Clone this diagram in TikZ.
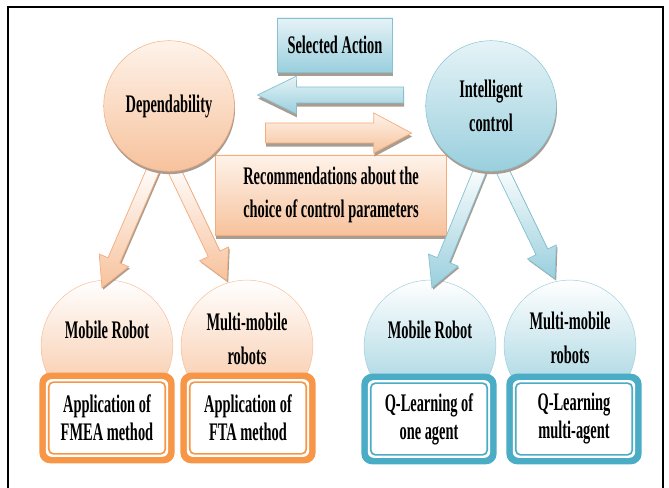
\documentclass[tikz,border=0pt]{standalone}
\usepackage{fontspec}
\setmainfont{Liberation Serif}[FakeStretch=0.57]
\usetikzlibrary{calc, shadows}

\definecolor{fmeaorange}{HTML}{F79646}
\definecolor{qlblue}{HTML}{4BACC6}
\definecolor{peachtop}{HTML}{FEF3EA}
\definecolor{peachbot}{HTML}{F7C29C}
\definecolor{peachline}{HTML}{F5AC7C}
\definecolor{aquatop}{HTML}{E6F3F7}
\definecolor{aquabot}{HTML}{99CFDD}
\definecolor{aqualine}{HTML}{84C1D3}
\definecolor{hatch}{HTML}{A99D92}

\pgfdeclarelayer{front}
\pgfsetlayers{main,front}

% block arrow: [style]{from}{to}{shaft half width}{head half width}{head length}
\newcommand{\blockarrow}[6][]{%
    \coordinate (neck) at ($(#3)!#6!(#2)$);
    \path[#1] ($(#2)!#4!90:(#3)$) -- ($(neck)!#4!90:(#3)$) -- ($(neck)!#5!90:(#3)$) -- (#3)
        -- ($(neck)!#5!-90:(#3)$) -- ($(neck)!#4!-90:(#3)$) -- ($(#2)!#4!-90:(#3)$) -- cycle;}

\begin{document}
\begin{tikzpicture}[x=0.85pt, y=-0.85pt, font=\fontsize{21.5pt}{29pt}\selectfont\bfseries,
    orb/.style={circle, inner sep=0pt, minimum size=111pt, align=center, draw=#1line,
        top color=#1top, bottom color=#1bot,
        drop shadow={shadow xshift=0.6pt, shadow yshift=-2.4pt, fill=hatch, opacity=1}},
    suborb/.style={circle, inner sep=0pt, minimum size=112pt, draw=#1line!80,
        top color=white, bottom color=#1bot},
    tag/.style={rectangle, inner sep=0pt, align=center, draw=#1line, top color=#1top, bottom color=#1bot,
        drop shadow={shadow xshift=0.5pt, shadow yshift=-3.4pt, fill=hatch, opacity=1}},
    appbox/.style={rectangle, rounded corners=9pt, fill=#1, minimum width=115pt, minimum height=77pt,
        align=center, font=\fontsize{21.5pt}{23.8pt}\selectfont\bfseries,
        path picture={
            \fill[white, rounded corners=5pt] ([shift={(5.5pt,5.5pt)}]path picture bounding box.south west)
                rectangle ([shift={(-5.5pt,-5.5pt)}]path picture bounding box.north east);
            \draw[#1, line width=1.4pt, rounded corners=4pt] ([shift={(8pt,8pt)}]path picture bounding box.south west)
                rectangle ([shift={(-8pt,-8pt)}]path picture bounding box.north east);}},
    flow/.style={draw=#1line, line width=0.6pt, top color=#1top, bottom color=#1bot,
        drop shadow={shadow xshift=0.5pt, shadow yshift=-3pt, fill=hatch, opacity=1}},
    branch/.style={draw=#1line, line width=0.6pt, top color=white, bottom color=#1bot,
        drop shadow={shadow xshift=1pt, shadow yshift=-1.5pt, fill=hatch, opacity=1}}]
    \useasboundingbox (0,0) rectangle (669,488);
    \draw[line width=1.4pt] (8,500) -- (8,7) -- (663,7) -- (663,500);

    \begin{pgfonlayer}{front}
        \node[orb=peach] (dep) at (169,106) {Dependability};
        \node[orb=aqua] (ic) at (491,106) {Intelligent\\control};
    \end{pgfonlayer}

    \node[tag=aqua, minimum width=98pt, minimum height=46pt] (act) at (335,45) {Selected Action};
    \node[tag=peach, minimum width=196pt, minimum height=68pt,
        font=\fontsize{21.5pt}{28pt}\selectfont\bfseries] (rec) at (331,195)
        {Recommendations about the\\choice of control parameters};

    \node[suborb=peach] (mobL) at (107,346) {};
    \node[suborb=peach] (multiL) at (247,346) {};
    \node[suborb=aqua] (mobR) at (430,346) {};
    \node[suborb=aqua] (multiR) at (570,346) {};
    \node (mobLt) at ($(mobL)+(0,-16)$) {Mobile Robot};
    \node[align=center] (multiLt) at ($(multiL)+(0,-7)$) {Multi-mobile\\robots};
    \node (mobRt) at ($(mobR)+(0,-16)$) {Mobile Robot};
    \node[align=center] (multiRt) at ($(multiR)+(0,-8)$) {Multi-mobile\\robots};

    \node[appbox=fmeaorange] (fmea) at (107,418) {Application of\\FMEA method};
    \node[appbox=fmeaorange] (fta) at (248,418) {Application of\\FTA method};
    \node[appbox=qlblue] (qone) at (429,419) {Q-Learning of\\one agent};
    \node[appbox=qlblue] (qmulti) at (574,419) {Q-Learning\\multi-agent};

    \coordinate (actS) at ($(ic.west)+(-22,-11)$);
    \coordinate (actE) at ($(dep.east)+(23,-11)$);
    \coordinate (recS) at ($(dep.east)+(31,27)$);
    \coordinate (recE) at ($(ic.west)+(-14,27)$);
    \blockarrow[flow=aqua]{actS}{actE}{6.8pt}{16pt}{33pt}
    \blockarrow[flow=peach]{recS}{recE}{8.5pt}{17pt}{32pt}

    \coordinate (depL) at ($(dep.south)+(-14,-6)$);
    \coordinate (depR) at ($(dep.south)+(3,-6)$);
    \coordinate (icL) at ($(ic.south)+(-9,-6)$);
    \coordinate (icR) at ($(ic.south)+(9,-6)$);
    \coordinate (mobLin) at ($(mobL.north)+(-5,8)$);
    \coordinate (multiLin) at ($(multiL.north)+(-20,1)$);
    \coordinate (mobRin) at ($(mobR.north)+(2,8)$);
    \coordinate (multiRin) at ($(multiR.north)+(-15,-1)$);
    \blockarrow[branch=peach]{depL}{mobLin}{5.5pt}{13.6pt}{25.5pt}
    \blockarrow[branch=peach]{depR}{multiLin}{5.5pt}{13.6pt}{25.5pt}
    \blockarrow[branch=aqua]{icL}{mobRin}{5.5pt}{13.6pt}{25.5pt}
    \blockarrow[branch=aqua]{icR}{multiRin}{5.5pt}{13.6pt}{25.5pt}
\end{tikzpicture}
\end{document}
